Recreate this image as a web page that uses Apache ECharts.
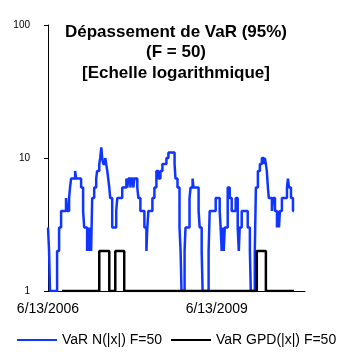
<!DOCTYPE html>
<html>
<head>
<meta charset="utf-8">
<script src="https://cdn.jsdelivr.net/npm/echarts@6/dist/echarts.min.js"></script>
<style>
  html, body { margin: 0; padding: 0; background: #fff; }
  #main { width: 354px; height: 354px; }
</style>
</head>
<body>
<div id="main"></div>
<script>
// jours depuis le 6/13/2006 (debut de l'axe)
var startDate = Date.UTC(2006, 5, 13);
var axisMaxDay = 1669;
var tickStepDays = 1096; // 3 ans -> 6/13/2009

var yTicks = [1, 10, 100];

// VaR N(|x|) F=50 : nombre de depassements (change a chaque point)
var normalDays = [0, 7, 13, 59, 72, 85, 117, 124, 137, 143, 150, 176, 183, 215, 228, 235,
  254, 261, 267, 274, 280, 287, 300, 313, 319, 333, 339, 346, 352, 359, 372, 378, 385,
  391, 398, 404, 417, 443, 450, 482, 509, 515, 522, 535, 541, 554, 561, 580, 587, 600,
  626, 639, 645, 652, 678, 691, 704, 717, 730, 743, 769, 782, 822, 828, 841, 854, 861,
  867, 887, 893, 919, 926, 939, 945, 978, 985, 998, 1004, 1043, 1050, 1089, 1115, 1121,
  1128, 1134, 1141, 1148, 1167, 1180, 1193, 1219, 1232, 1239, 1245, 1258, 1297, 1311,
  1317, 1343, 1350, 1363, 1376, 1389, 1402, 1408, 1415, 1421, 1428, 1434, 1454, 1460,
  1474, 1487, 1493, 1500, 1506, 1519, 1552, 1558, 1565, 1578, 1591, 1597];
var normalValues = [3, 2, 1, 2, 3, 4, 5, 4, 5, 6, 7, 8, 7, 6, 4, 3,
  2, 3, 2, 3, 2, 5, 6, 7, 8, 9, 10, 12, 10, 9, 10, 9, 8,
  7, 6, 5, 3, 4, 5, 6, 7, 6, 7, 6, 7, 6, 7, 6, 5, 4,
  3, 2, 3, 4, 5, 6, 8, 7, 8, 9, 10, 11, 9, 7, 6, 3, 2,
  1, 2, 3, 5, 6, 7, 6, 4, 3, 2, 1, 2, 4, 5, 4, 3,
  2, 3, 2, 3, 6, 5, 4, 5, 3, 2, 3, 4, 3, 2,
  1, 2, 6, 8, 9, 10, 9, 10, 9, 8, 6, 5, 4, 5,
  4, 3, 4, 3, 4, 5, 6, 7, 6, 5, 4, 4];

// VaR GPD(|x|) F=50
var gpdDays = [91, 333, 398, 437, 495, 1356, 1415, 1597];
var gpdValues = [1, 2, 1, 2, 1, 2, 1, 1];

function pairs(days, values) {
    var out = [];
    for (var i = 0; i < days.length; i++) {
        out.push([days[i], values[i]]);
    }
    return out;
}

function dayLabel(d) {
    var dt = new Date(startDate + d * 86400000);
    return (dt.getUTCMonth() + 1) + '/' + dt.getUTCDate() + '/' + dt.getUTCFullYear();
}

var font = 'Liberation Sans, Arial, sans-serif';
var myChart = echarts.init(document.getElementById('main'));

var option = {
    animation: false,
    backgroundColor: '#fff',
    textStyle: { fontFamily: font },
    title: {
        text: 'Dépassement de VaR (95%)\n(F = 50)\n[Echelle logarithmique]',
        left: 176,
        textAlign: 'center',
        top: 22,
        padding: 0,
        textStyle: {
            fontFamily: font,
            fontSize: 17,
            fontWeight: 'bold',
            color: '#000',
            lineHeight: 20.5
        }
    },
    legend: {
        left: 17,
        top: 333,
        padding: 0,
        icon: 'rect',
        itemWidth: 40,
        itemHeight: 2,
        itemGap: 9,
        textStyle: { fontFamily: font, fontSize: 14, color: '#000' },
        data: ['VaR N(|x|) F=50', 'VaR GPD(|x|) F=50']
    },
    grid: {
        left: 48,
        right: 49,
        top: 25,
        bottom: 63
    },
    xAxis: {
        type: 'value',
        min: 0,
        max: axisMaxDay,
        interval: tickStepDays,
        axisLine: { show: true, lineStyle: { color: '#000', width: 1 } },
        axisTick: { show: false },
        splitLine: { show: false },
        axisLabel: {
            showMaxLabel: false,
            margin: 11,
            fontSize: 14,
            color: '#000',
            fontFamily: font,
            formatter: function (v) {
                return v % tickStepDays === 0 ? dayLabel(v) : '';
            }
        }
    },
    yAxis: {
        type: 'log',
        logBase: 10,
        min: yTicks[0],
        max: yTicks[yTicks.length - 1],
        axisLine: { show: true, lineStyle: { color: '#000', width: 1 } },
        axisTick: { show: true, length: 4, lineStyle: { color: '#000' } },
        splitLine: { show: false },
        axisLabel: {
            margin: 18,
            fontSize: 10,
            color: '#000',
            fontFamily: font
        }
    },
    series: [{
        name: 'VaR N(|x|) F=50',
        type: 'line',
        step: 'end',
        showSymbol: false,
        data: pairs(normalDays, normalValues),
        itemStyle: { color: '#0f35ff' },
        lineStyle: { color: '#0f35ff', width: 2.5 },
        z: 2
    }, {
        name: 'VaR GPD(|x|) F=50',
        type: 'line',
        step: 'end',
        showSymbol: false,
        data: pairs(gpdDays, gpdValues),
        itemStyle: { color: '#000' },
        lineStyle: { color: '#000', width: 2.5 },
        z: 3
    }]
};

myChart.setOption(option);
</script>
</body>
</html>
